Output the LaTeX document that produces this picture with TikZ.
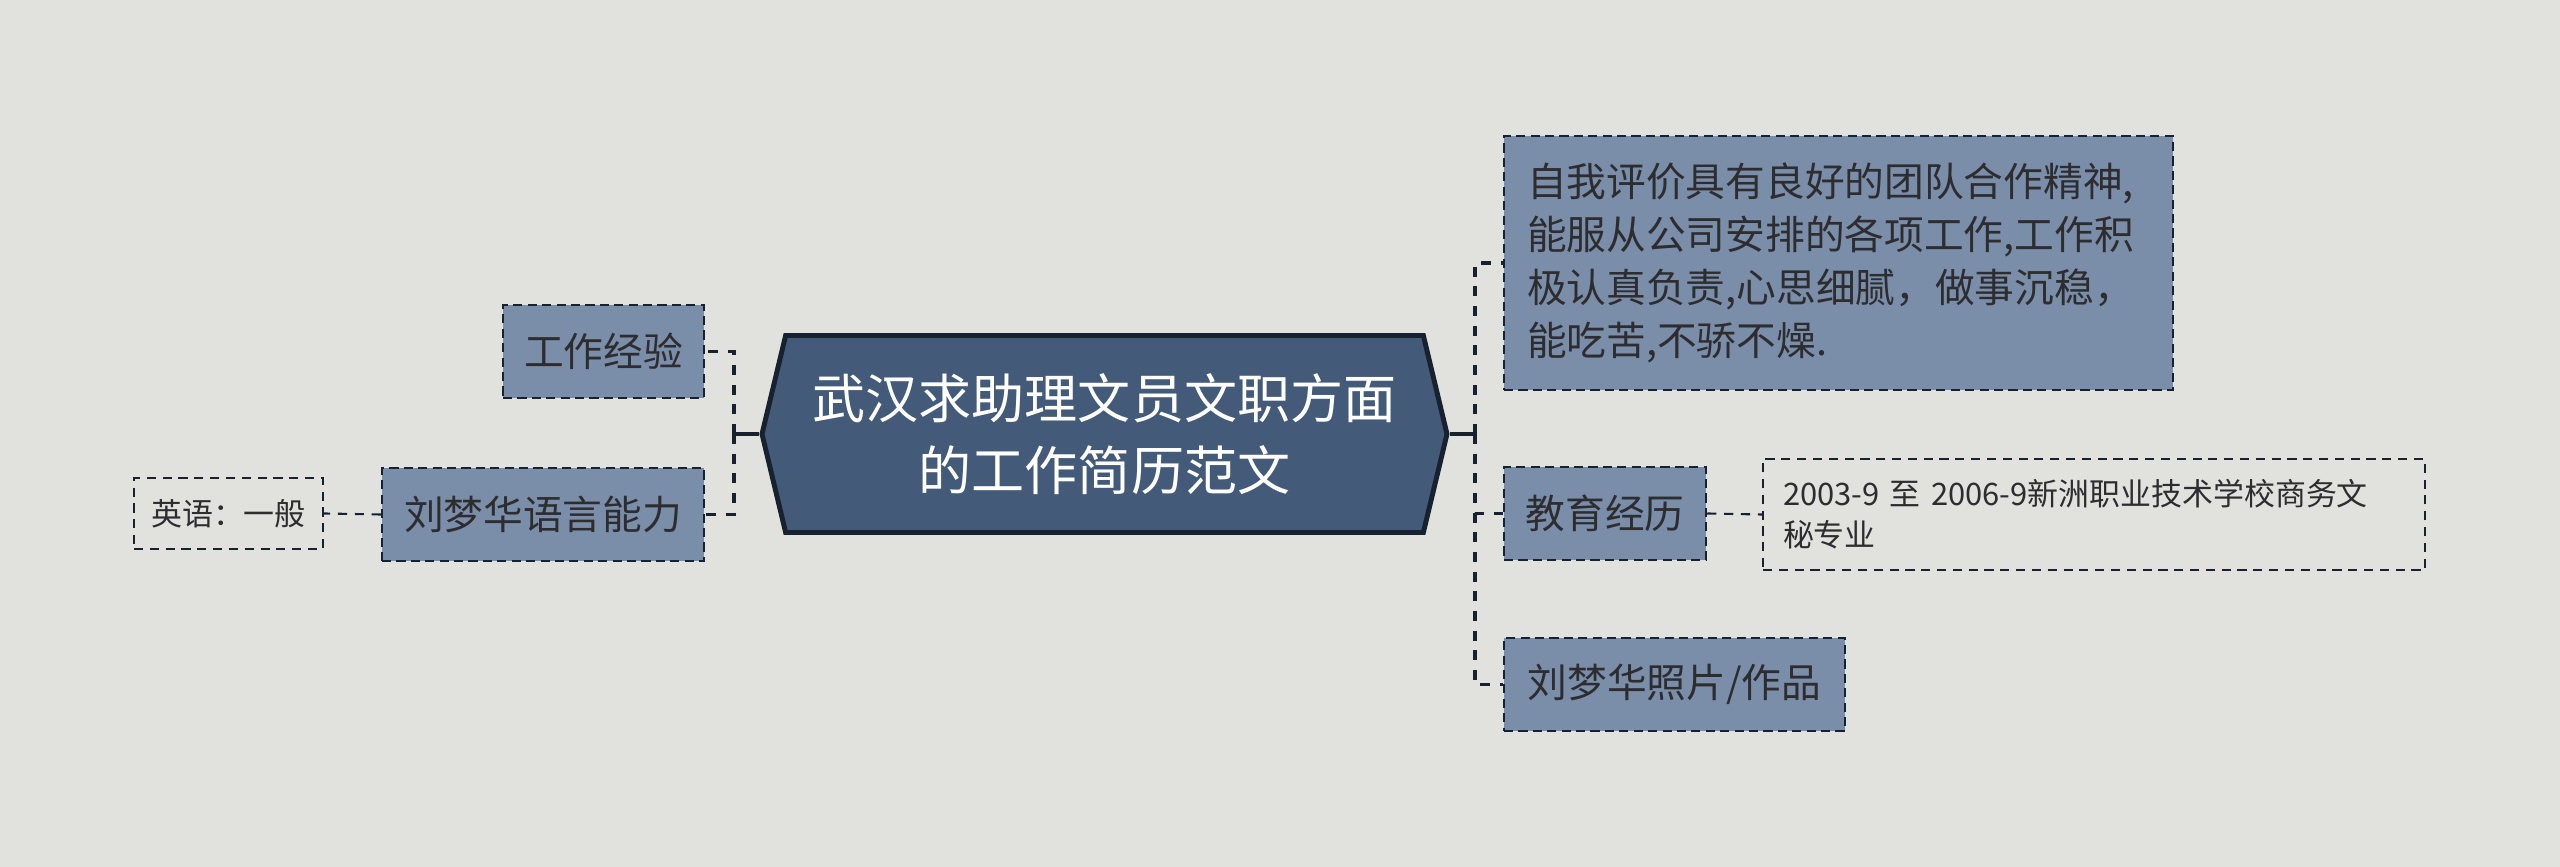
\documentclass[tikz,border=0pt]{standalone}
\usepackage{fontspec}
\setmainfont{Noto Sans CJK SC}
\usepackage{xcolor}
\usetikzlibrary{shapes.symbols}

\definecolor{bgcol}{RGB}{225,226,221}
\definecolor{rootcol}{RGB}{67,90,120}
\definecolor{leafcol}{RGB}{122,141,169}
\definecolor{inkcol}{RGB}{24,33,48}
\definecolor{txtcol}{RGB}{45,45,48}

\begin{document}
\begin{tikzpicture}[
  rootbox/.style={signal, signal to=west and east, signal pointer angle=153,
    draw=inkcol, line width=1.4pt, fill=rootcol, text=white, align=center,
    minimum width=6.85cm, minimum height=1.97cm, inner sep=0pt,
    font=\fontsize{15.1}{20.5}\selectfont},
  leafbox/.style={draw=inkcol, line width=0.7pt, dash pattern=on 2.6pt off 1.5pt,
    fill=leafcol, text=txtcol, minimum height=0.93cm, inner sep=0pt,
    font=\fontsize{11.3}{15.1}\selectfont},
  notebox/.style={draw=inkcol, line width=0.55pt, dash pattern=on 2.6pt off 1.9pt,
    text=txtcol, inner sep=0pt, font=\fontsize{8.8}{11.7}\selectfont},
  trunk/.style={draw=inkcol, line width=1.1pt},
  branch/.style={draw=inkcol, line width=1.1pt, dash pattern=on 2.8pt off 2.8pt},
  twig/.style={draw=inkcol, line width=0.6pt, dash pattern=on 2.6pt off 2.2pt}
]
\fill[bgcol] (0,0) rectangle (25.6,-8.67);
\useasboundingbox (0,0) rectangle (25.6,-8.67);

\node[rootbox] (root) at (11.045,-4.34) {武汉求助理文员文职方面\\的工作简历范文};

\node[leafbox, minimum width=6.69cm, minimum height=2.54cm, text width=6.23cm,
  inner xsep=0.23cm, align=left] (eval) at (18.385,-2.63)
  {自我评价具有良好的团队合作精神,\\能服从公司安排的各项工作,工作积\\
   极认真负责,心思细腻，做事沉稳，\\能吃苦,不骄不燥.};
\node[leafbox, minimum width=2.02cm] (edu) at (16.05,-5.135) {教育经历};
\node[leafbox, minimum width=3.41cm] (photo) at (16.745,-6.845) {刘梦华照片/作品};
\node[notebox, minimum width=6.62cm, minimum height=1.11cm, text width=6.22cm,
  inner xsep=0.2cm, align=left] (school) at (20.94,-5.145)
  {2003-9 至 2006-9新洲职业技术学校商务文\\秘专业};

\node[leafbox, minimum width=2.01cm] (work) at (6.035,-3.515) {工作经验};
\node[leafbox, minimum width=3.22cm] (lang) at (5.43,-5.145) {刘梦华语言能力};
\node[notebox, minimum width=1.89cm, minimum height=0.71cm] (eng) at (2.285,-5.135)
  {英语：一般};

\coordinate (jr) at (14.75,-4.34);
\coordinate (jl) at (7.34,-4.34);

\draw[trunk] (root.east) -- (jr);
\draw[branch] (jr) |- (eval.west);
\draw[branch] (jr) |- (edu.west);
\draw[branch] (jr) |- (photo.west);
\draw[twig] (edu.east) -- (school.west);

\draw[trunk] (root.west) -- (jl);
\draw[branch] (jl) |- (work.east);
\draw[branch] (jl) |- (lang.east);
\draw[twig] (lang.west) -- (eng.east);
\end{tikzpicture}
\end{document}
